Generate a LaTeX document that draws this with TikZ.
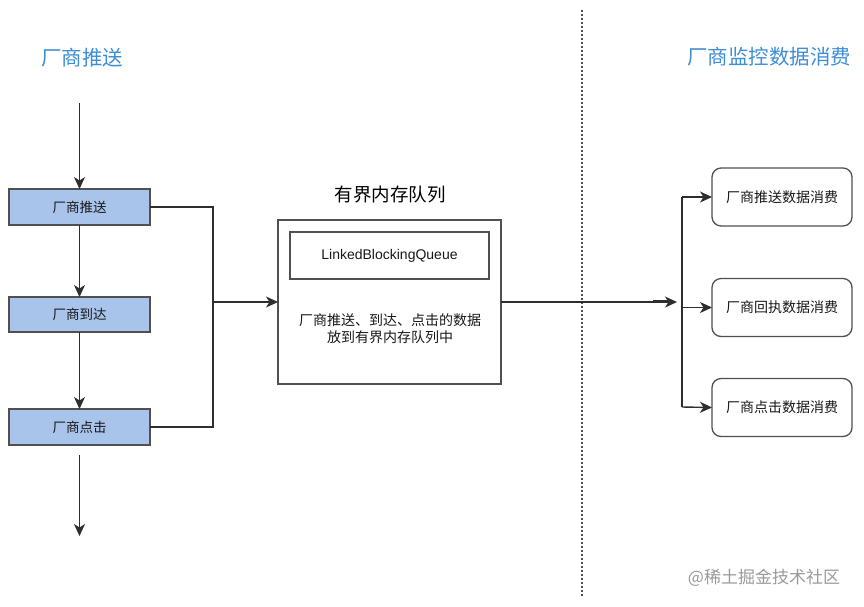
\documentclass[tikz,border=0pt]{standalone}
\usepackage{fontspec}
\setmainfont{Noto Sans CJK SC}
\newfontfamily\latinf{Liberation Sans}
\usetikzlibrary{arrows.meta}
\definecolor{titleblue}{HTML}{3E8ED6}
\definecolor{boxblue}{HTML}{A9C4EB}
\definecolor{edge}{HTML}{2E2E2E}
\definecolor{bordergray}{HTML}{505050}
\definecolor{wm}{HTML}{9A9A9A}
\begin{document}
\begin{tikzpicture}[x=1pt,y=-1pt,
  every node/.style={inner sep=0pt, outer sep=0pt},
  title/.style={text=titleblue, font=\fontsize{20.5}{24}\selectfont},
  srcbox/.style={draw=bordergray, fill=boxblue, line width=1.3pt, minimum width=141pt, minimum height=36pt, font=\fontsize{13.5}{16}\selectfont, text=black!90},
  plainbox/.style={draw=bordergray, line width=1.3pt, fill=white},
  conbox/.style={draw=bordergray, line width=1.3pt, rounded corners=9pt, minimum width=140pt, minimum height=58pt, font=\fontsize{14}{16}\selectfont, text=black!90},
  conn/.style={draw=edge, line width=1.4pt},
  arr/.style={conn, -{Stealth[length=12pt,width=11pt,inset=3.5pt]}},
  divider/.style={draw=bordergray, line width=1.4pt, dash pattern=on 2pt off 2pt}
]
\useasboundingbox (0,0) rectangle (864,606);
\fill[white] (0,0) rectangle (864,606);

% titles
\node[title] (tl) at (82,58) {厂商推送};
\node[title] (tr) at (769,57) {厂商监控数据消费};

% divider
\coordinate (dtop) at (582,10);
\coordinate (dbot) at (582,596);
\draw[divider] (dtop) -- (dbot);

% source boxes
\node[srcbox] (b1) at (79.5,207) {厂商推送};
\node[srcbox, minimum height=35pt] (b2) at (79.5,314.5) {厂商到达};
\node[srcbox] (b3) at (79.5,427) {厂商点击};

\coordinate (tstart) at (79.5,103);
\coordinate (bstart) at (79.5,455);
\coordinate (bend) at (79.5,536);
\draw[arr] (tstart) -- (b1.north);
\draw[arr] (b1.south) -- (b2.north);
\draw[arr] (b2.south) -- (b3.north);
\draw[arr] (bstart) -- (bend);

% queue
\node[plainbox, minimum width=223pt, minimum height=164pt] (q) at (389.5,302) {};
\node[plainbox, minimum width=199pt, minimum height=47pt, font=\latinf\fontsize{14}{16}\selectfont, text=black!90] (lbq) at (389.5,255.5) {LinkedBlockingQueue};
\node[font=\fontsize{18.5}{22}\selectfont, text=black] (qt) at (390,195) {有界内存队列};
\node[font=\fontsize{14}{17.5}\selectfont, align=center, text=black!90] (qd) at (390,328.5) {厂商推送、到达、点击的数据\\放到有界内存队列中};

\coordinate (jl) at (213,302);
\draw[conn] (b1.east) -| (jl) |- (b3.east);
\draw[arr] (jl) -- (q.west);

% consumers
\node[conbox] (c1) at (782,197) {厂商推送数据消费};
\node[conbox] (c2) at (782,307.5) {厂商回执数据消费};
\node[conbox] (c3) at (782,407.5) {厂商点击数据消费};

\coordinate (jr) at (682,302);
\coordinate (jt) at (682,197);
\coordinate (jb) at (682,407);
\draw[arr, shorten >=5pt] (q.east) -- (jr);
\coordinate (dbl1) at (653,300.3);
\coordinate (dbl2) at (668,300.3);
\draw[conn] (dbl1) -- (dbl2);
\draw[conn] (jt) -- (jb);
\draw[arr] (jt) -- (c1.west);
\draw[arr] (jr |- c2.west) -- (c2.west);
\draw[arr] (jb) -- (c3.west);

% watermark
\node[text=wm, font=\fontsize{17}{20}\selectfont] (wmk) at (764,578) {@稀土掘金技术社区};
\end{tikzpicture}
\end{document}
